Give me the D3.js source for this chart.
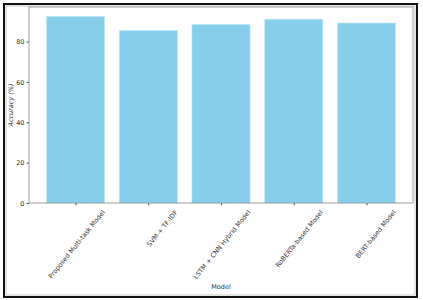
<!DOCTYPE html>
<html lang="en">
<head>
<meta charset="utf-8" />
<title>Model accuracy</title>
<script src="https://d3js.org/d3.v7.min.js"></script>
<style>
  body { margin: 0; background: #fff; }
  svg text { font-family: "DejaVu Sans", sans-serif; fill: #333; }
</style>
</head>
<body>
<script>
// data
var models = ["Proposed Multi-task Model", "SVM + TF-IDF", "LSTM + CNN Hybrid Model", "RoBERTa-based Model", "BERT-based Model"];
var accuracy = [92.5, 85.5, 88.5, 91.1, 89.2];
var yTicks = [0, 20, 40, 60, 80];

var width = 423, height = 300;
var plotLeft = 29, plotRight = 413, plotTop = 7, plotBottom = 203;

var svg = d3.select("body").append("svg")
    .attr("width", width)
    .attr("height", height);

// outer frame
svg.append("rect").attr("x", 4).attr("y", 4).attr("width", 413).attr("height", 293)
    .attr("fill", "none").attr("stroke", "#111").attr("stroke-width", 2);
svg.append("rect").attr("x", 6).attr("y", 6).attr("width", 409).attr("height", 289)
    .attr("fill", "none").attr("stroke", "#bbb").attr("stroke-width", 0.8);

// matplotlib style: bars at integer positions, width 0.8, 5% margins
var n = models.length;
var pad = (n - 1 + 0.8) * 0.05;
var x = d3.scaleLinear().domain([-0.4 - pad, n - 1 + 0.4 + pad]).range([plotLeft, plotRight]);
var ymax = d3.max(accuracy) * 1.05;
var y = d3.scaleLinear().domain([0, ymax]).range([plotBottom, plotTop]);

svg.append("g").selectAll("rect")
    .data(accuracy)
    .enter().append("rect")
    .attr("x", function (d, i) { return x(i - 0.4); })
    .attr("y", function (d) { return y(d); })
    .attr("width", function (d, i) { return x(i + 0.4) - x(i - 0.4); })
    .attr("height", function (d) { return y(0) - y(d); })
    .attr("fill", "#87ceeb")
    .attr("stroke", "#c9ecf8")
    .attr("stroke-width", 0.6);

// spines
svg.append("rect").attr("x", plotLeft).attr("y", plotTop)
    .attr("width", plotRight - plotLeft).attr("height", plotBottom - plotTop)
    .attr("fill", "none").attr("stroke", "#888").attr("stroke-width", 0.8);

// y axis
var yAxis = svg.append("g")
    .attr("transform", "translate(" + plotLeft + ",0)")
    .call(d3.axisLeft(y).tickValues(yTicks).tickSize(2.5).tickPadding(2));
yAxis.select(".domain").remove();
yAxis.selectAll("line").attr("stroke", "#555");
yAxis.selectAll("text").attr("font-size", 6.5).attr("fill", "#333")
    .style("font-family", "DejaVu Sans, sans-serif");

// x axis
var xAxis = svg.append("g")
    .attr("transform", "translate(0," + plotBottom + ")")
    .call(d3.axisBottom(x).tickValues(d3.range(n)).tickSize(2.5).tickFormat(""));
xAxis.select(".domain").remove();
xAxis.selectAll("line").attr("stroke", "#555");

// rotated model labels, ending near the top right
svg.append("g").selectAll("text")
    .data(models)
    .enter().append("text")
    .attr("transform", function (d, i) {
        return "translate(" + (x(i) + 28) + "," + (plotBottom + 8) + ") rotate(-51)";
    })
    .attr("text-anchor", "end")
    .attr("font-size", 6.5)
    .attr("dy", "0.35em")
    .attr("fill", "#333")
    .text(function (d) { return d; });

// axis titles
svg.append("text")
    .attr("transform", "translate(13," + ((plotTop + plotBottom) / 2) + ") rotate(-90)")
    .attr("text-anchor", "middle")
    .attr("font-size", 6.5)
    .attr("font-style", "italic")
    .attr("fill", "#333")
    .text("Accuracy (%)");

svg.append("text")
    .attr("x", 221)
    .attr("y", 289)
    .attr("text-anchor", "middle")
    .attr("font-size", 6.5)
    .attr("fill", "#333")
    .text("Model");
</script>
</body>
</html>
